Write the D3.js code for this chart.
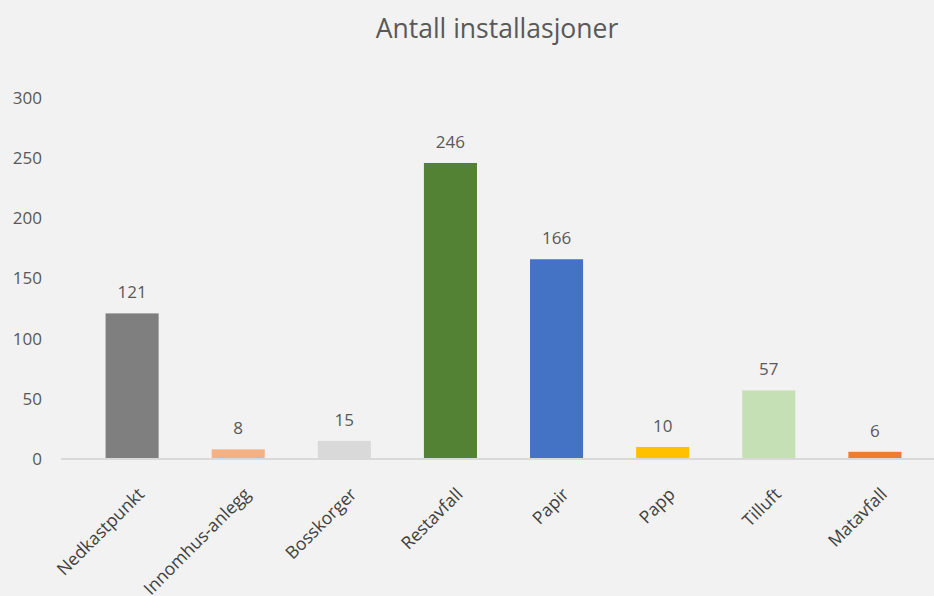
<html lang="en">
<head>
<meta charset="utf-8">
<title>Antall installasjoner</title>
<style>
  body { margin: 0; background: #f2f2f2; }
  text { font-family: "Open Sans", "Noto Sans", sans-serif; fill: #595959; }
</style>
<script src="https://d3js.org/d3.v7.min.js"></script>
</head>
<body>
<svg id="chart" width="934" height="596"></svg>
<script>
// data
var categories = ["Nedkastpunkt", "Innomhus-anlegg", "Bosskorger", "Restavfall", "Papir", "Papp", "Tilluft", "Matavfall"];
var values = [121, 8, 15, 246, 166, 10, 57, 6];
var colors = ["#7f7f7f", "#f4b183", "#d9d9d9", "#548235", "#4472c4", "#ffc000", "#c5e0b4", "#ed7d31"];
var yTicks = [0, 50, 100, 150, 200, 250, 300];

var svg = d3.select("#chart");

svg.append("rect").attr("width", 934).attr("height", 596).attr("fill", "#f2f2f2");

// scales
var x = d3.scaleBand()
    .domain(categories)
    .range([61, 946])
    .paddingInner(0.5)
    .paddingOuter(0.42);

var y = d3.scaleLinear().domain([0, 300]).range([459, 98]);

// title
svg.append("text")
    .attr("x", 497)
    .attr("y", 38)
    .attr("text-anchor", "middle")
    .style("font-size", "26.5px")
    .text("Antall installasjoner");

// y labels (no gridlines)
svg.selectAll(".ytick")
    .data(yTicks)
  .enter().append("text")
    .attr("class", "ytick")
    .attr("x", 42)
    .attr("y", function(d) { return y(d); })
    .attr("dy", "0.35em")
    .attr("text-anchor", "end")
    .style("font-size", "17px")
    .text(function(d) { return d; });

// bars
svg.selectAll(".bar")
    .data(values)
  .enter().append("rect")
    .attr("class", "bar")
    .attr("x", function(d, i) { return x(categories[i]); })
    .attr("width", x.bandwidth())
    .attr("y", function(d) { return y(d); })
    .attr("height", function(d) { return y(0) - y(d); })
    .attr("fill", function(d, i) { return colors[i]; });

// baseline
svg.append("line")
    .attr("x1", 61).attr("x2", 934)
    .attr("y1", y(0)).attr("y2", y(0))
    .attr("stroke", "#d9d9d9")
    .attr("stroke-width", 2);

// value labels
svg.selectAll(".val")
    .data(values)
  .enter().append("text")
    .attr("class", "val")
    .attr("x", function(d, i) { return x(categories[i]) + x.bandwidth() / 2; })
    .attr("y", function(d) { return y(d) - 15; })
    .attr("text-anchor", "middle")
    .style("font-size", "17px")
    .text(function(d) { return d; });

// category labels, rotated (the long one runs off the bottom, as in the original)
svg.selectAll(".cat")
    .data(categories)
  .enter().append("text")
    .attr("class", "cat")
    .attr("transform", function(d) {
      return "translate(" + (x(d) + x.bandwidth() / 2 + 9) + "," + 491 + ") rotate(-45)";
    })
    .attr("text-anchor", "end")
    .attr("dy", "0.35em")
    .style("font-size", "17.5px")
    .style("fill", "#404040")
    .text(function(d) { return d; });
</script>
</body>
</html>
